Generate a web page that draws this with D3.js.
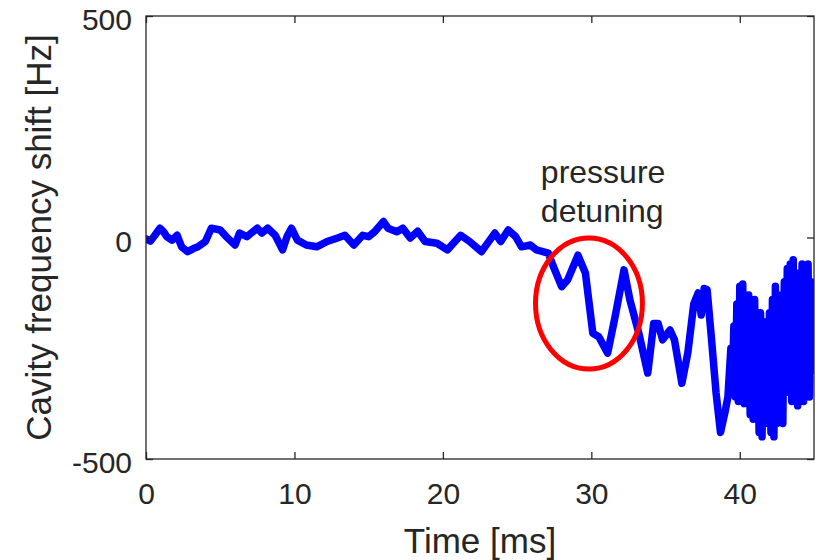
<!DOCTYPE html>
<html>
<head>
<meta charset="utf-8">
<script src="https://cdn.jsdelivr.net/npm/d3@7"></script>
<style>
  html, body { margin: 0; padding: 0; background: #ffffff; }
  svg { display: block; }
  text { font-family: "Liberation Sans", Arial, Helvetica, sans-serif; fill: #262626; }
</style>
</head>
<body>
<svg id="chart" width="823" height="560"></svg>
<script>
// ---- data ----
const timeMs = [
  0.0, 0.3, 0.6, 0.94, 1.2, 1.4, 1.75, 2.1, 2.4, 2.8, 3.2, 3.5, 4.0, 4.4, 5.0, 5.4, 6.0, 6.3, 6.8, 7.5,
  7.8, 8.2, 8.7, 9.2, 9.5, 9.8, 10.2, 10.8, 11.5, 12.2, 12.9, 13.4, 14.0, 14.6, 15.0, 15.4, 16.0, 16.3, 16.9, 17.3,
  17.8, 18.3, 18.8, 19.6, 20.3, 21.2, 21.8, 22.6, 23.5, 23.9, 24.4, 24.9, 25.3, 25.9, 26.3, 27.1, 27.4, 28.0, 28.4, 29.1,
  29.6, 30.1, 30.5, 31.1, 31.6, 32.2, 32.6, 33.2, 33.8, 34.2, 34.5, 34.8, 35.3, 35.6, 36.1, 36.5, 36.9, 37.2, 37.4, 37.6,
  37.8, 38.1, 38.4, 38.7, 39.0, 39.2, 39.4,
  39.5, 39.6, 39.7, 39.8, 39.9, 40.0, 40.1, 40.2, 40.3, 40.4, 40.5, 40.6, 40.7, 40.8, 40.9, 41.0, 41.1, 41.2, 41.3, 41.4,
  41.5, 41.6, 41.7, 41.8, 41.9, 42.0, 42.1, 42.2, 42.3, 42.4, 42.5, 42.6, 42.7, 42.8, 42.9, 43.0, 43.1, 43.2, 43.3, 43.4,
  43.5, 43.6, 43.7, 43.8, 43.9, 44.0, 44.1, 44.2, 44.3, 44.4, 44.5, 44.6, 44.7, 44.8, 44.9, 45.0
];
const shiftHz = [
  -3, -8, 5, 21, 12, 2, -6, 5, -21, -32, -25, -21, -9, 21, 17, 2, -17, 10, 2, 21,
  10, 21, 5, -28, 2, 21, -6, -17, -21, -9, -1, 5, -17, 5, 2, 13, 36, 21, 13, 21,
  -1, 14, -9, -13, -28, 5, -9, -32, 10, -9, 17, 2, -21, -17, -28, -35, -62, -111, -96, -40,
  -80, -216, -224, -261, -179, -73, -141, -216, -306, -194, -194, -231, -209, -231, -329, -260, -150, -125, -175, -115,
  -118, -231, -350, -440, -395, -360, -250,
  -340, -200, -360, -150, -370, -110, -330, -105, -375, -150, -350, -130, -400, -160, -410, -140, -380, -200, -440, -170,
  -450, -220, -420, -190, -400, -170, -440, -140, -450, -110, -420, -130, -390, -160, -420, -100, -350, -70, -340, -60,
  -370, -50, -330, -90, -380, -80, -350, -60, -370, -90, -340, -60, -360, -100, -300, -200
];
const xTicks = [0, 10, 20, 30, 40];
const yTicks = [-500, 0, 500];
const xDomain = [0, 45];
const yDomain = [-500, 500];
const annotationLines = ["pressure", "detuning"];
const annotationAnchor = [26.6, 123];      // first-line baseline in data units (ms, Hz)
const ellipseCenter = [29.84, -149];        // ms, Hz
const ellipseRadii = [3.6, 148];            // ms, Hz

// ---- layout ----
const margin = { left: 146, right: 9, top: 16, bottom: 101 };
const W = 823, H = 560;
const svg = d3.select("#chart");
const x = d3.scaleLinear().domain(xDomain).range([margin.left, W - margin.right]);
const y = d3.scaleLinear().domain(yDomain).range([H - margin.bottom, margin.top]);
const axisColor = "#262626";
const tickLen = 7;
const fmt = d => String(d);

svg.append("defs").append("clipPath").attr("id", "clip")
  .append("rect").attr("x", x(xDomain[0])).attr("y", y(yDomain[1]) - 4)
  .attr("width", x(xDomain[1]) - x(xDomain[0])).attr("height", y(yDomain[0]) - y(yDomain[1]) + 8);

// line
const data = timeMs.map((t, i) => ({ t, v: shiftHz[i] }));
const line = d3.line().x(d => x(d.t)).y(d => y(d.v));
svg.append("path")
  .datum(data)
  .attr("clip-path", "url(#clip)")
  .attr("d", line)
  .attr("fill", "none")
  .attr("stroke", "#0000ff")
  .attr("stroke-width", 7.5)
  .attr("stroke-linejoin", "round")
  .attr("stroke-linecap", "round");

// ellipse annotation
svg.append("ellipse")
  .attr("cx", x(ellipseCenter[0]))
  .attr("cy", y(ellipseCenter[1]))
  .attr("rx", x(ellipseCenter[0] + ellipseRadii[0]) - x(ellipseCenter[0]))
  .attr("ry", y(ellipseCenter[1] - ellipseRadii[1]) - y(ellipseCenter[1]))
  .attr("fill", "none")
  .attr("stroke", "#ff0000")
  .attr("stroke-width", 5);

// annotation text
const ann = svg.append("text")
  .attr("x", x(annotationAnchor[0]))
  .attr("y", y(annotationAnchor[1]))
  .attr("font-size", 32);
annotationLines.forEach((s, i) => {
  ann.append("tspan").attr("x", x(annotationAnchor[0])).attr("dy", i === 0 ? 0 : 39).text(s);
});

// axes
function styleAxis(g) {
  g.select(".domain").remove();
  g.selectAll(".tick line").attr("stroke", axisColor).attr("stroke-width", 1.3);
  g.selectAll(".tick text").attr("fill", axisColor).attr("font-size", 30)
    .attr("font-family", '"Liberation Sans", Arial, Helvetica, sans-serif');
}
const gx = svg.append("g").attr("transform", `translate(0,${y(yDomain[0])})`)
  .call(d3.axisBottom(x).tickValues(xTicks).tickSizeInner(-tickLen).tickSizeOuter(0).tickFormat(fmt));
styleAxis(gx);
gx.selectAll(".tick text").attr("y", 45).attr("dy", 0);

const gxTop = svg.append("g").attr("transform", `translate(0,${y(yDomain[1])})`)
  .call(d3.axisTop(x).tickValues(xTicks).tickSizeInner(-tickLen).tickSizeOuter(0).tickFormat(""));
styleAxis(gxTop);

const gy = svg.append("g").attr("transform", `translate(${x(xDomain[0])},0)`)
  .call(d3.axisLeft(y).tickValues(yTicks).tickSizeInner(-tickLen).tickSizeOuter(0).tickFormat(fmt));
styleAxis(gy);
gy.selectAll(".tick text").attr("x", -14).attr("dy", 0).attr("y", 13.5).attr("text-anchor", "end");

const gyR = svg.append("g").attr("transform", `translate(${x(xDomain[1])},0)`)
  .call(d3.axisRight(y).tickValues(yTicks).tickSizeInner(-tickLen).tickSizeOuter(0).tickFormat(""));
styleAxis(gyR);

// frame
svg.append("rect")
  .attr("x", x(xDomain[0])).attr("y", y(yDomain[1]))
  .attr("width", x(xDomain[1]) - x(xDomain[0])).attr("height", y(yDomain[0]) - y(yDomain[1]))
  .attr("fill", "none").attr("stroke", axisColor).attr("stroke-width", 1.3);

// axis labels
svg.append("text")
  .attr("x", (x(xDomain[0]) + x(xDomain[1])) / 2).attr("y", 553)
  .attr("text-anchor", "middle").attr("font-size", 35)
  .text("Time [ms]");
svg.append("text")
  .attr("transform", `translate(51,${(y(yDomain[1]) + y(yDomain[0])) / 2}) rotate(-90)`)
  .attr("text-anchor", "middle").attr("font-size", 35)
  .text("Cavity frequency shift [Hz]");
</script>
</body>
</html>
